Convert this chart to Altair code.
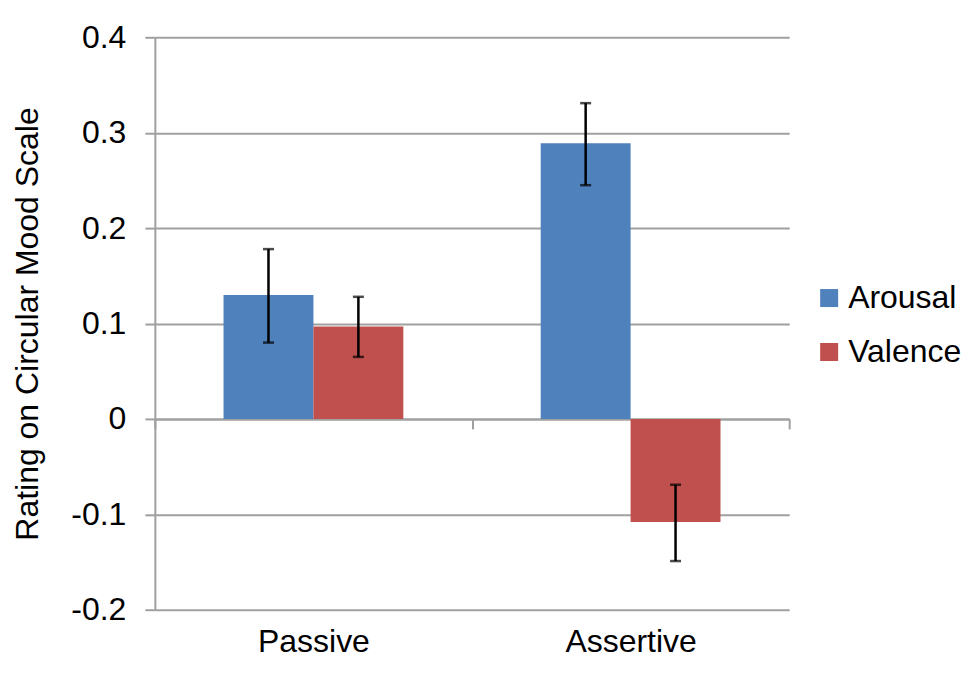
import altair as alt
import pandas as pd

# ---- data ----
conditions = ["Passive", "Passive", "Assertive", "Assertive"]
measures = ["Arousal", "Valence", "Arousal", "Valence"]
means = [0.130, 0.097, 0.289, -0.108]
lows = [0.080, 0.065, 0.245, -0.149]
highs = [0.178, 0.128, 0.331, -0.069]

category_order = ["Passive", "Assertive"]
measure_order = ["Arousal", "Valence"]
measure_colors = ["#4F81BD", "#C0504D"]
y_ticks = [-0.2, -0.1, 0, 0.1, 0.2, 0.3, 0.4]
y_title = "Rating on Circular Mood Scale"

df = pd.DataFrame({
    "condition": conditions,
    "measure": measures,
    "mean": means,
    "low": lows,
    "high": highs,
})

FONT = "Liberation Sans"
GRAY = "#a0a0a0"
W, H = 635, 573
Y_MIN, Y_MAX = -0.2, 0.4
zero_offset = -H * (0 - Y_MIN) / (Y_MAX - Y_MIN)

x_enc = alt.X(
    "condition:N",
    sort=category_order,
    scale=alt.Scale(paddingInner=0, paddingOuter=0),
    axis=alt.Axis(
        title=None, orient="bottom", offset=zero_offset, tickBand="extent",
        domainColor=GRAY, domainWidth=2, tickColor=GRAY, tickWidth=2, tickSize=10,
        labelPadding=198, labelFont=FONT, labelFontSize=32, labelColor="black",
        grid=False, labelAngle=0,
    ),
)
xoff = alt.XOffset(
    "measure:N", sort=measure_order,
    scale=alt.Scale(paddingInner=0, paddingOuter=0.764),
)
y_scale = alt.Scale(domain=[Y_MIN, Y_MAX], nice=False, zero=False)
y_axis = alt.Axis(
    values=y_ticks,
    labelExpr="datum.value == 0 ? '0' : replace(format(datum.value, '.1f'), '\u2212', '-')",
    title=y_title, titleFont=FONT, titleFontSize=32, titleFontWeight="normal",
    titleColor="black", titlePadding=26,
    labelFont=FONT, labelFontSize=32, labelColor="black", labelPadding=19,
    domainColor=GRAY, domainWidth=2, tickColor=GRAY, tickWidth=2, tickSize=10,
    gridColor=GRAY, gridWidth=2,
)

bars = alt.Chart(df).mark_bar().encode(
    x=x_enc,
    xOffset=xoff,
    y=alt.Y("mean:Q", scale=y_scale, axis=y_axis),
    color=alt.Color(
        "measure:N", sort=measure_order,
        scale=alt.Scale(domain=measure_order, range=measure_colors),
        legend=alt.Legend(
            title=None, orient="none", legendX=659, legendY=245,
            symbolType="square", symbolSize=324, symbolStrokeWidth=0,
            labelFont=FONT, labelFontSize=32, labelColor="black",
            labelOffset=3, rowPadding=22, padding=0,
        ),
    ),
)

rules = alt.Chart(df).mark_rule(color="black", strokeWidth=2.5).encode(
    x=x_enc, xOffset=xoff, y="low:Q", y2="high:Q",
)
caps_hi = alt.Chart(df).mark_tick(color="black", thickness=2.5, size=11).encode(
    x=x_enc, xOffset=xoff, y="high:Q",
)
caps_lo = alt.Chart(df).mark_tick(color="black", thickness=2.5, size=11).encode(
    x=x_enc, xOffset=xoff, y="low:Q",
)

chart = alt.layer(bars, rules, caps_hi, caps_lo).properties(
    width=W, height=H,
    autosize=alt.AutoSizeParams(type="none"),
    padding={"left": 147, "top": 29, "right": 182, "bottom": 58},
    background="white",
).configure_view(stroke=None)

chart.save("out.html", embed_options={"renderer": "svg", "actions": False})
